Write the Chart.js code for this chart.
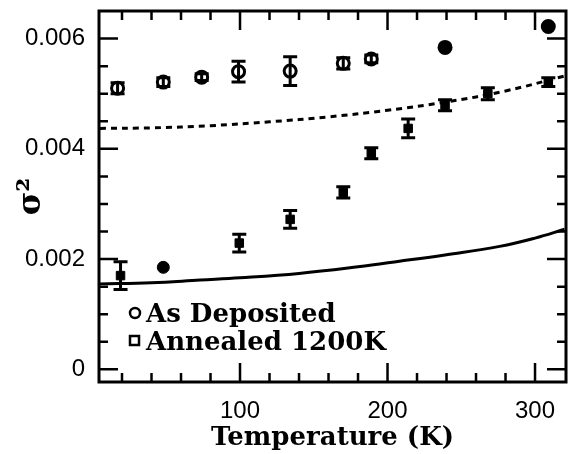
<!DOCTYPE html>
<html>
<head>
<meta charset="utf-8">
<script src="https://cdn.jsdelivr.net/npm/chart.js@4.4.0/dist/chart.umd.min.js"></script>
<style>
  html, body { margin: 0; padding: 0; background: #fff; }
  #wrap { width: 569px; height: 454px; }
</style>
</head>
<body>
<div id="wrap"><canvas id="chart" width="569" height="454"></canvas></div>
<script>
// --- DATA ---
const depT   = [17, 48, 74, 99, 134, 170, 189, 239, 309];
const depS   = [0.00510, 0.00521, 0.00530, 0.00540, 0.00541, 0.00555, 0.00563, 0.00584, 0.00622];
const depErr = [0.00010, 0.00008, 0.00006, 0.00019, 0.00026, 0.00010, 0.00007, 0, 0];

const annT   = [19, 48, 99.5, 134, 170, 189, 214, 239, 268, 309];
const annS   = [0.00170, 0.00185, 0.00229, 0.00272, 0.00321, 0.00392, 0.00437, 0.00479, 0.00500, 0.00521];
const annErr = [0.00025, 0, 0.00016, 0.00016, 0.00010, 0.00010, 0.00017, 0.00010, 0.00011, 0.00008];

// model curves
const dashT = [5, 40, 80, 120, 160, 200, 240, 280, 320];
const dashS = [0.00437, 0.00438, 0.00442, 0.00449, 0.00458, 0.00470, 0.00485, 0.00505, 0.00532];
const solidT = [5, 40, 73, 100, 140, 180, 208, 240, 276, 300, 320];
const solidS = [0.00155, 0.00157, 0.00162, 0.00166, 0.00174, 0.00186, 0.00196, 0.00208, 0.00223, 0.00238, 0.00254];

const xTicks = [100, 200, 300];
const yTicks = [0, 0.002, 0.004, 0.006];

const toXY = (xs, ys) => xs.map((x, i) => ({ x: x, y: ys[i] }));

const serif = '"DejaVu Serif", serif';
const sans = '"Liberation Sans", Arial, sans-serif';

// keep the plot box fixed: no label overhang padding
function noPad(s) {
    s.paddingLeft = 0; s.paddingRight = 0;
    s.paddingTop = 0; s.paddingBottom = 0;
}

// --- error bars, frame with inward ticks, legend ---
const decorPlugin = {
    id: 'decor',
    afterDatasetsDraw(chart) {
        const ctx = chart.ctx;
        const xs = chart.scales.x, ys = chart.scales.y;
        const a = chart.chartArea;

        // error bars
        ctx.save();
        ctx.strokeStyle = '#000';
        ctx.lineWidth = 3;
        const bars = [[depT, depS, depErr, 7], [annT, annS, annErr, 7]];
        bars.forEach(([t, s, e, cap]) => {
            t.forEach((tv, i) => {
                if (!e[i]) return;
                const px = xs.getPixelForValue(tv);
                const y1 = ys.getPixelForValue(s[i] - e[i]);
                const y2 = ys.getPixelForValue(s[i] + e[i]);
                ctx.beginPath();
                ctx.moveTo(px, y1); ctx.lineTo(px, y2);
                ctx.moveTo(px - cap, y1); ctx.lineTo(px + cap, y1);
                ctx.moveTo(px - cap, y2); ctx.lineTo(px + cap, y2);
                ctx.stroke();
            });
        });
        ctx.restore();

        // frame
        ctx.save();
        ctx.strokeStyle = '#000';
        ctx.lineWidth = 3;
        ctx.strokeRect(a.left, a.top, a.right - a.left, a.bottom - a.top);

        // ticks on all four sides, pointing inward
        ctx.lineWidth = 2.5;
        ctx.beginPath();
        for (let v = 20; v <= 320; v += 20) {
            const px = xs.getPixelForValue(v);
            if (px <= a.left + 2 || px >= a.right - 2) continue;
            const len = (v % 100 === 0) ? 19 : 9;
            ctx.moveTo(px, a.bottom); ctx.lineTo(px, a.bottom - len);
            ctx.moveTo(px, a.top); ctx.lineTo(px, a.top + len);
        }
        for (let k = 0; k <= 13; k++) {
            const v = k * 0.0005;
            const py = ys.getPixelForValue(v);
            if (py <= a.top + 2 || py >= a.bottom - 2) continue;
            const len = (k % 4 === 0) ? 19 : 9;
            ctx.moveTo(a.left, py); ctx.lineTo(a.left + len, py);
            ctx.moveTo(a.right, py); ctx.lineTo(a.right - len, py);
        }
        ctx.stroke();
        ctx.restore();

        // legend
        ctx.save();
        ctx.fillStyle = '#000';
        ctx.strokeStyle = '#000';
        ctx.font = 'bold 26px ' + serif;
        ctx.textBaseline = 'alphabetic';
        ctx.lineWidth = 2.5;
        ctx.beginPath();
        ctx.arc(135, 313, 5, 0, Math.PI * 2);
        ctx.stroke();
        ctx.strokeRect(130, 336, 9, 9);
        ctx.fillText('As Deposited', 146, 322);
        ctx.fillText('Annealed 1200K', 146, 350);
        ctx.restore();
    }
};

const ctx = document.getElementById('chart').getContext('2d');
const chart = new Chart(ctx, {
    type: 'scatter',
    data: {
        datasets: [{
            label: 'dashed model',
            type: 'line',
            data: toXY(dashT, dashS),
            borderColor: '#000',
            borderWidth: 3,
            borderDash: [6, 5],
            pointRadius: 0,
            tension: 0.4,
            fill: false
        }, {
            label: 'solid model',
            type: 'line',
            data: toXY(solidT, solidS),
            borderColor: '#000',
            borderWidth: 3,
            pointRadius: 0,
            tension: 0.4,
            fill: false
        }, {
            label: 'As Deposited',
            data: toXY(depT, depS),
            pointStyle: 'circle',
            pointRadius: 6,
            pointBorderWidth: 3,
            pointBorderColor: '#000',
            pointBackgroundColor: ['#fff', '#fff', '#fff', '#fff', '#fff', '#fff', '#fff', '#000', '#000']
        }, {
            label: 'Annealed 1200K',
            data: toXY(annT, annS),
            pointStyle: ['rect', 'circle', 'rect', 'rect', 'rect', 'rect', 'rect', 'rect', 'rect', 'rect'],
            pointRadius: 6,
            pointBorderWidth: 1,
            pointBorderColor: '#000',
            pointBackgroundColor: '#000'
        }]
    },
    options: {
        responsive: false,
        animation: false,
        layout: { autoPadding: false, padding: { top: 11, right: 3, left: 0, bottom: 0 } },
        plugins: {
            legend: { display: false },
            tooltip: { enabled: false }
        },
        scales: {
            x: {
                type: 'linear',
                min: 4.4,
                max: 321,
                grid: { display: false, drawTicks: false },
                border: { display: false },
                afterBuildTicks: s => { s.ticks = xTicks.map(v => ({ value: v })); },
                afterFit: s => { s.height = 72; noPad(s); },
                ticks: {
                    color: '#000',
                    padding: 15,
                    font: { family: sans, size: 24 },
                    maxRotation: 0,
                    callback: v => String(v)
                },
                title: {
                    display: true,
                    text: 'Temperature (K)',
                    color: '#000',
                    font: { family: serif, size: 26, weight: 'bold' },
                    padding: { top: 0, bottom: 0 }
                }
            },
            y: {
                type: 'linear',
                min: -0.00023,
                max: 0.0065,
                grid: { display: false, drawTicks: false },
                border: { display: false },
                afterBuildTicks: s => { s.ticks = yTicks.map(v => ({ value: v })); },
                afterFit: s => { s.width = 99; noPad(s); },
                ticks: {
                    color: '#000',
                    padding: 14,
                    font: { family: sans, size: 24 },
                    callback: v => (v === 0 ? '0' : v.toFixed(3))
                },
                title: {
                    display: true,
                    text: 'σ²',
                    color: '#000',
                    font: { family: serif, size: 32, weight: 'bold' },
                    padding: { top: 12, bottom: 0 }
                }
            }
        }
    },
    plugins: [decorPlugin]
});
</script>
</body>
</html>
